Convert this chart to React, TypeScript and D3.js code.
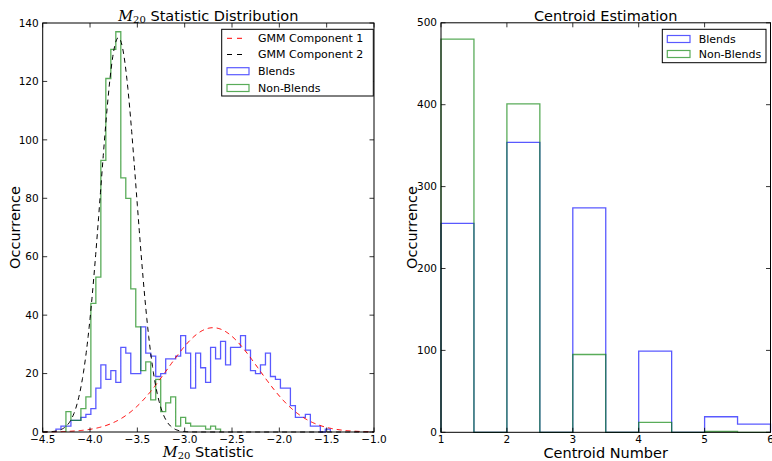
import React, { useEffect, useRef } from 'react';
import * as d3 from 'd3';

// M20 histogram bins (shared grid)
const m20BinStart = -4.36;
const m20BinWidth = 0.0527;
const blendsM20 = [
  1, 2, 2, 4, 4, 5, 6, 8, 15, 23, 18, 21, 17, 29, 27, 20, 20, 36, 27, 26,
  19, 20, 25, 25, 26, 33, 27, 15, 27, 22, 17, 29, 25, 31, 23, 29, 29, 33, 28, 21,
  20, 23, 27, 19, 18, 15, 15, 9, 5, 5, 6, 2, 2, 0, 1,
];
const nonBlendsStartBin = 2;
const nonBlendsM20 = [
  7, 4, 4, 8, 12, 44, 53, 93, 121, 131, 137, 87, 80, 49, 36, 21, 24, 11, 18, 7,
  10, 12, 2, 5, 3, 2, 2, 2, 1, 2, 1,
];
const gmmComponents = [
  { label: 'GMM Component 1', mean: -2.7, sigma: 0.48, peak: 35.7, color: '#ff0000' },
  { label: 'GMM Component 2', mean: -3.7, sigma: 0.19, peak: 135, color: '#000000' },
];
const m20Ticks = [-4.5, -4.0, -3.5, -3.0, -2.5, -2.0, -1.5, -1.0];
const m20CountTicks = [0, 20, 40, 60, 80, 100, 120, 140];

// Centroid histogram
const centroidEdges = [1, 1.5, 2, 2.5, 3, 3.5, 4, 4.5, 5, 5.5, 6];
const blendsCentroid = [255, 0, 354, 0, 274, 0, 99, 0, 19, 10];
const nonBlendsCentroid = [480, 0, 401, 0, 95, 0, 12, 0, 1, 0];
const centroidTicks = [1, 2, 3, 4, 5, 6];
const centroidCountTicks = [0, 100, 200, 300, 400, 500];

const BLUE = '#0000ff';
const GREEN = '#008000';
const FONT = 'DejaVu Sans, sans-serif';
const TICK_FS = '10.5px';
const LABEL_FS = '14.5px';
const LEGEND_FS = '11px';

const fmt = (v: number, digits: number) => {
  const s = v.toFixed(digits);
  return s.startsWith('-') ? '\u2212' + s.slice(1) : s;
};

const App = () => {
  const svgRef = useRef<SVGSVGElement>(null);

  useEffect(() => {
    if (!svgRef.current) return;
    const svg = d3.select(svgRef.current);
    svg.selectAll('*').remove();

    svg.append('rect').attr('width', 772).attr('height', 461).attr('fill', '#fff');

    const stepPoints = (edges: number[], counts: number[]) => {
      const pts: [number, number][] = [[edges[0], 0]];
      counts.forEach((c, i) => {
        pts.push([edges[i], c]);
        pts.push([edges[i + 1], c]);
      });
      pts.push([edges[edges.length - 1], 0]);
      return pts;
    };

    const drawAxesFrame = (
      g: d3.Selection<SVGGElement, unknown, null, undefined>,
      x: d3.ScaleLinear<number, number>,
      y: d3.ScaleLinear<number, number>,
      xt: number[], yt: number[], xDigits: number
    ) => {
      const [x0, x1] = x.range();
      const [y0, y1] = y.range();
      const tl = 4.5;
      xt.forEach(t => {
        const px = x(t);
        g.append('line').attr('x1', px).attr('x2', px).attr('y1', y0).attr('y2', y0 - tl)
          .attr('stroke', '#000').attr('stroke-width', 0.8);
        g.append('line').attr('x1', px).attr('x2', px).attr('y1', y1).attr('y2', y1 + tl)
          .attr('stroke', '#000').attr('stroke-width', 0.8);
        g.append('text').attr('x', px).attr('y', y0 + 11).attr('text-anchor', 'middle')
          .attr('font-family', FONT).attr('font-size', TICK_FS).text(fmt(t, xDigits));
      });
      yt.forEach(t => {
        const py = y(t);
        g.append('line').attr('x1', x0).attr('x2', x0 + tl).attr('y1', py).attr('y2', py)
          .attr('stroke', '#000').attr('stroke-width', 0.8);
        g.append('line').attr('x1', x1).attr('x2', x1 - tl).attr('y1', py).attr('y2', py)
          .attr('stroke', '#000').attr('stroke-width', 0.8);
        g.append('text').attr('x', x0 - 4).attr('y', py).attr('dy', '0.35em')
          .attr('text-anchor', 'end')
          .attr('font-family', FONT).attr('font-size', TICK_FS).text(String(t));
      });
      g.append('rect').attr('x', x0).attr('y', y1).attr('width', x1 - x0).attr('height', y0 - y1)
        .attr('fill', 'none').attr('stroke', '#000').attr('stroke-width', 1);
    };

    const line = (x: d3.ScaleLinear<number, number>, y: d3.ScaleLinear<number, number>) =>
      d3.line<[number, number]>().x(d => x(d[0])).y(d => y(d[1]));

    // ---------- Left: M20 distribution ----------
    const xL = d3.scaleLinear().domain([-4.5, -1.0]).range([42.7, 374]);
    const yL = d3.scaleLinear().domain([0, 140]).range([432, 23]);
    const gL = svg.append('g');

    const blendEdges = d3.range(blendsM20.length + 1).map(i => m20BinStart + i * m20BinWidth);
    const nonBlendEdges = d3.range(nonBlendsM20.length + 1)
      .map(i => m20BinStart + (i + nonBlendsStartBin) * m20BinWidth);

    gL.append('path').attr('d', line(xL, yL)(stepPoints(blendEdges, blendsM20)))
      .attr('fill', 'none').attr('stroke', BLUE).attr('stroke-opacity', 0.65).attr('stroke-width', 1.3);
    gL.append('path').attr('d', line(xL, yL)(stepPoints(nonBlendEdges, nonBlendsM20)))
      .attr('fill', 'none').attr('stroke', GREEN).attr('stroke-opacity', 0.65).attr('stroke-width', 1.3);

    const xs = d3.range(-4.5, -0.999, 0.01);
    gmmComponents.forEach(c => {
      const pts: [number, number][] = xs.map(v => [v, c.peak * Math.exp(-0.5 * ((v - c.mean) / c.sigma) ** 2)]);
      gL.append('path').attr('d', line(xL, yL)(pts))
        .attr('fill', 'none').attr('stroke', c.color).attr('stroke-width', 1)
        .attr('stroke-dasharray', '5,4');
    });

    drawAxesFrame(gL, xL, yL, m20Ticks, m20CountTicks, 1);

    const titleL = gL.append('text').attr('x', 208.3).attr('y', 20.5).attr('text-anchor', 'middle')
      .attr('font-family', FONT).attr('font-size', LABEL_FS);
    titleL.append('tspan').attr('font-family', 'DejaVu Serif, serif').attr('font-style', 'italic').text('M');
    titleL.append('tspan').attr('font-family', 'DejaVu Serif, serif').attr('font-size', '10px').attr('dy', 2.5).text('20');
    titleL.append('tspan').attr('dy', -2.5).text(' Statistic Distribution');

    const xLabL = gL.append('text').attr('x', 208.3).attr('y', 456.5).attr('text-anchor', 'middle')
      .attr('font-family', FONT).attr('font-size', LABEL_FS);
    xLabL.append('tspan').attr('font-family', 'DejaVu Serif, serif').attr('font-style', 'italic').text('M');
    xLabL.append('tspan').attr('font-family', 'DejaVu Serif, serif').attr('font-size', '10px').attr('dy', 2.5).text('20');
    xLabL.append('tspan').attr('dy', -2.5).text(' Statistic');

    gL.append('text').attr('transform', 'translate(20,227.5) rotate(-90)').attr('text-anchor', 'middle')
      .attr('font-family', FONT).attr('font-size', LABEL_FS).text('Occurrence');

    // legend left
    const lgL = gL.append('g');
    lgL.append('rect').attr('x', 221.7).attr('y', 29.3).attr('width', 151.6).attr('height', 66.7)
      .attr('fill', '#fff').attr('stroke', '#000').attr('stroke-width', 1);
    const rowsL = [38.3, 54.5, 71.2, 88];
    gmmComponents.forEach((c, i) => {
      lgL.append('line').attr('x1', 227).attr('x2', 247).attr('y1', rowsL[i]).attr('y2', rowsL[i])
        .attr('stroke', c.color).attr('stroke-width', 1).attr('stroke-dasharray', '5,5');
      lgL.append('text').attr('x', 258).attr('y', rowsL[i]).attr('dy', '0.35em')
        .attr('font-family', FONT).attr('font-size', LEGEND_FS).text(c.label);
    });
    [['Blends', BLUE], ['Non-Blends', GREEN]].forEach(([lab, col], i) => {
      const ry = rowsL[i + 2];
      lgL.append('rect').attr('x', 227).attr('y', ry - 3.5).attr('width', 22).attr('height', 7)
        .attr('fill', 'none').attr('stroke', col).attr('stroke-opacity', 0.65).attr('stroke-width', 1.2);
      lgL.append('text').attr('x', 258).attr('y', ry).attr('dy', '0.35em')
        .attr('font-family', FONT).attr('font-size', LEGEND_FS).text(lab);
    });

    // ---------- Right: centroid estimation ----------
    const xR = d3.scaleLinear().domain([1, 6]).range([441, 770.5]);
    const yR = d3.scaleLinear().domain([0, 500]).range([432.3, 22.8]);
    const gR = svg.append('g');

    gR.append('path').attr('d', line(xR, yR)(stepPoints(centroidEdges, blendsCentroid)))
      .attr('fill', 'none').attr('stroke', BLUE).attr('stroke-opacity', 0.65).attr('stroke-width', 1.3);
    gR.append('path').attr('d', line(xR, yR)(stepPoints(centroidEdges, nonBlendsCentroid)))
      .attr('fill', 'none').attr('stroke', GREEN).attr('stroke-opacity', 0.65).attr('stroke-width', 1.3);

    drawAxesFrame(gR, xR, yR, centroidTicks, centroidCountTicks, 0);

    gR.append('text').attr('x', 605.7).attr('y', 20.5).attr('text-anchor', 'middle')
      .attr('font-family', FONT).attr('font-size', LABEL_FS).text('Centroid Estimation');
    gR.append('text').attr('x', 605.7).attr('y', 458).attr('text-anchor', 'middle')
      .attr('font-family', FONT).attr('font-size', LABEL_FS).text('Centroid Number');
    gR.append('text').attr('transform', 'translate(417,227.5) rotate(-90)').attr('text-anchor', 'middle')
      .attr('font-family', FONT).attr('font-size', LABEL_FS).text('Occurrence');

    const lgR = gR.append('g');
    lgR.append('rect').attr('x', 662.3).attr('y', 29.3).attr('width', 103.7).attr('height', 33.4)
      .attr('fill', '#fff').attr('stroke', '#000').attr('stroke-width', 1);
    [['Blends', BLUE], ['Non-Blends', GREEN]].forEach(([lab, col], i) => {
      const ry = [39, 54][i];
      lgR.append('rect').attr('x', 667.3).attr('y', ry - 3.5).attr('width', 22.7).attr('height', 7)
        .attr('fill', 'none').attr('stroke', col).attr('stroke-opacity', 0.65).attr('stroke-width', 1.2);
      lgR.append('text').attr('x', 698.7).attr('y', ry).attr('dy', '0.35em')
        .attr('font-family', FONT).attr('font-size', LEGEND_FS).text(lab);
    });
  }, []);

  return (
    <svg ref={svgRef} width={772} height={461}
      style={{ position: 'absolute', left: 0, top: 0, display: 'block' }} />
  );
};

export default App;
